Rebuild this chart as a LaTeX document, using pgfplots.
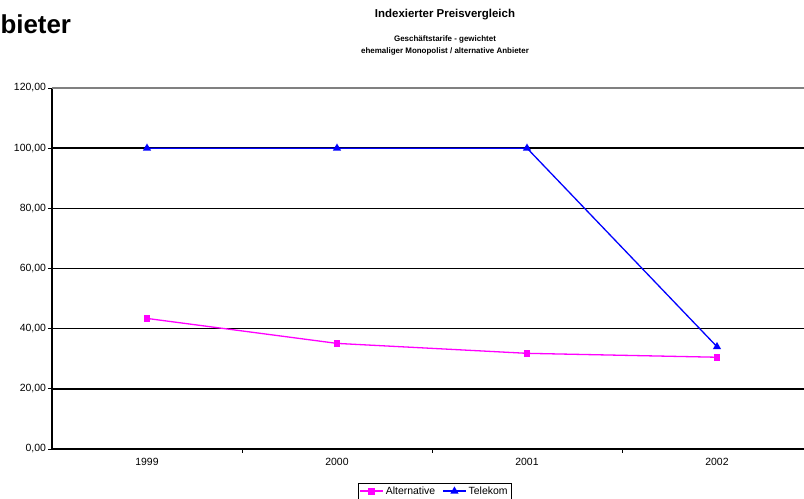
\documentclass[border=0pt]{standalone}
\usepackage{fontspec}
\setmainfont{Liberation Sans}
\usepackage{pgfplots}
\usepackage{pgfplotstable}
\pgfplotsset{compat=1.18}

\definecolor{altmag}{RGB}{255,0,255}
\definecolor{telblue}{RGB}{0,0,255}

% index values, 1999-2002 at x = 0..3
\pgfplotstableread{
x alt tel
0 43.4 100
1 35.1 100
2 31.8 100
3 30.5 34.0
}\preise

\begin{document}
\begin{tikzpicture}[x=1bp,y=1bp]
\useasboundingbox (-52,-50) rectangle (752,449);
\begin{axis}[
    at={(0,0)}, anchor=south west,
    scale only axis, width=752bp, height=361bp,
    xmin=-0.5, xmax=3.458, ymin=0, ymax=120,
    axis x line*=bottom, axis y line*=left,
    axis line style={black, line width=1.8bp, -},
    xtick={0,1,2,3}, xticklabels={1999,2000,2001,2002},
    minor xtick={0.5,1.5,2.5},
    major x tick style={draw=none},
    tick style={black, line width=0.8bp},
    tick align=outside,
    major tick length=4bp, minor tick length=4bp,
    ytick={0,20,...,100},
    extra y ticks={120},
    extra y tick style={major grid style={gray, line width=1.8bp}},
    ymajorgrids, grid style={black, line width=1.5bp},
    ticklabel style={font=\fontsize{10.5}{11}\selectfont},
    yticklabel style={xshift=1.5bp},
    xticklabel style={yshift=-2bp},
    /pgf/number format/.cd, fixed, fixed zerofill, precision=2, use comma,
        assume math mode=true,
    /pgfplots/.cd,
    legend style={at={(0.5086,-0.094)}, anchor=north, legend columns=2,
        draw=black, font=\fontsize{10.5}{11}\selectfont,
        inner sep=1.5bp,
        /tikz/every even column/.append style={column sep=5bp}},
    legend image code/.code={
        \draw[line width=1.8bp] (0cm,0cm) -- (0.8cm,0cm);
        \draw[mark repeat=2, mark phase=2]
            plot coordinates {(0cm,0cm) (0.4cm,0cm) (0.8cm,0cm)};},
]
\addplot[altmag, line width=1.3bp, mark=square*, mark size=2.8bp]
    table[x=x, y=alt] {\preise};
\addplot[telblue, line width=1.3bp, mark=triangle*, mark size=3.4bp]
    table[x=x, y=tel] {\preise};
\legend{Alternative, Telekom}
\end{axis}
\node[anchor=west, font=\bfseries\fontsize{26}{28}\selectfont] at (-55,425) {bieter};
\node[font=\bfseries\fontsize{11.5}{13}\selectfont] at (393,434) {Indexierter Preisvergleich};
\node[font=\bfseries\fontsize{8}{9}\selectfont] at (393,410) {Geschäftstarife - gewichtet};
\node[font=\bfseries\fontsize{8}{9}\selectfont] at (393,398) {ehemaliger Monopolist / alternative Anbieter};
\end{tikzpicture}
\end{document}
